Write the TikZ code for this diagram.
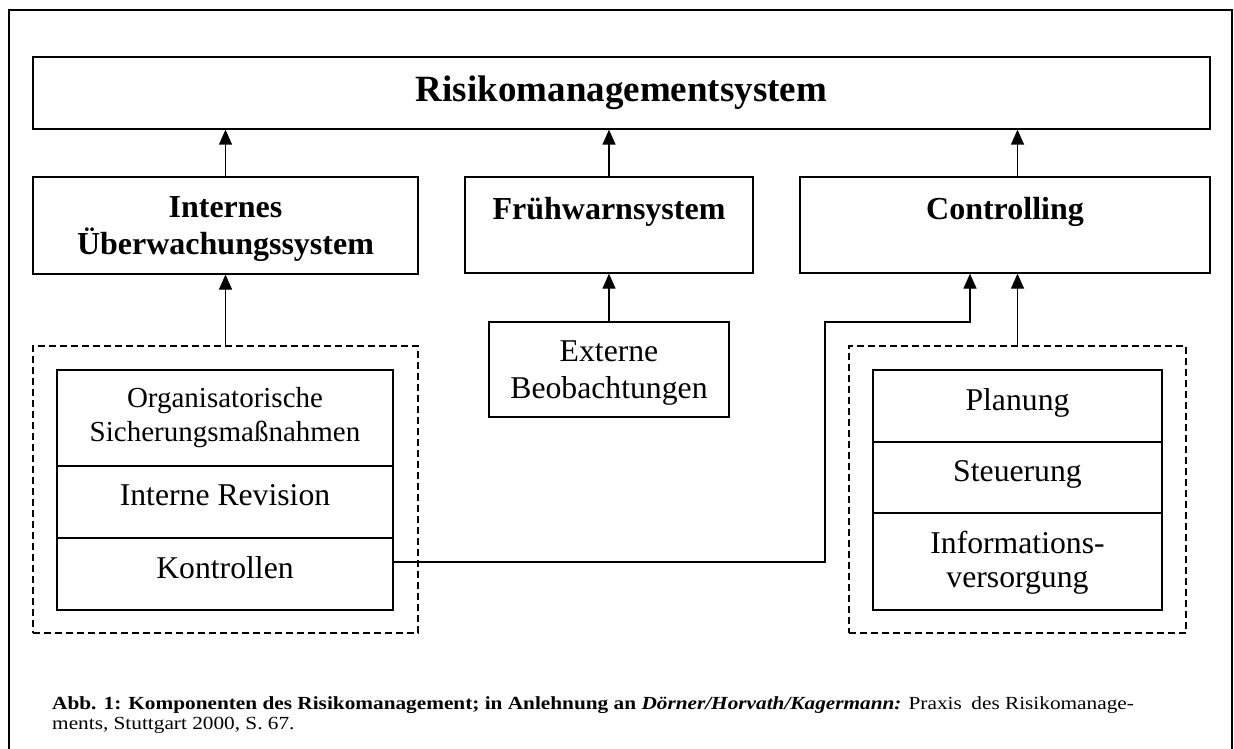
\documentclass[tikz,border=0pt]{standalone}
\usepackage{fontspec}
\usepackage{graphicx}
\setmainfont{Liberation Serif}
\usetikzlibrary{arrows.meta}
\newcommand{\rs}{\rule[-13pt]{0pt}{22pt}}
\begin{document}
\begin{tikzpicture}[x=1pt,y=-1pt,
  box/.style={draw,line width=1.3pt,inner sep=0pt,align=center},
  dbox/.style={draw,line width=1.2pt,dash pattern=on 7pt off 4pt,inner sep=0pt},
  arr/.style={line width=1.3pt,-{Triangle[length=15pt,width=13pt]}},
  hd/.style={font=\fontsize{32}{37}\selectfont\bfseries},
  tx/.style={font=\fontsize{31.7}{35}\selectfont},
  txs/.style={font=\fontsize{29}{34}\selectfont},
]
\useasboundingbox (0,0) rectangle (1234,749);
\draw[line width=1.3pt] (9,749) -- (9,10) -- (1232,10) -- (1232,749);

\node[box,font=\fontsize{37}{40}\selectfont\bfseries,minimum width=1177pt,minimum height=72pt] (top) at (621.5,93) {\rule[-5pt]{0pt}{28pt}Risikomanagementsystem};

\node[box,hd,minimum width=385pt,minimum height=97pt] (ius) at (225.5,225.5) {\rule{0pt}{33pt}Internes\\\strut Überwachungssystem};
\node[box,hd,minimum width=288pt,minimum height=96pt] (fws) at (609,225) {\rule{0pt}{38pt}Frühwarnsystem\\\strut};
\node[box,hd,minimum width=410pt,minimum height=96pt] (ctl) at (1005,225) {\rule{0pt}{38pt}Controlling\\\strut};

\node[dbox,minimum width=385pt,minimum height=287pt] (dL) at (225.5,489.5) {};
\node[dbox,minimum width=337pt,minimum height=287pt] (dR) at (1017.5,489.5) {};

\node[box,txs,minimum width=336pt,minimum height=96pt] (org) at (225,418) {\strut Organisatorische\\\strut Sicherungsmaßnahmen};
\node[box,tx,minimum width=336pt,minimum height=72pt] (rev) at (225,502) {\rs Interne Revision};
\node[box,tx,minimum width=336pt,minimum height=72pt] (kon) at (225,574) {\rs Kontrollen};

\node[box,font=\fontsize{31.7}{37}\selectfont,minimum width=240pt,minimum height=95pt] (ext) at (609,369.5) {\rule{0pt}{33pt}Externe\\\strut Beobachtungen};

\node[box,tx,minimum width=289pt,minimum height=72pt] (pla) at (1017.5,406) {\rs Planung};
\node[box,tx,minimum width=289pt,minimum height=71pt] (ste) at (1017.5,477.5) {\rs Steuerung};
\node[box,font=\fontsize{31.7}{34}\selectfont,minimum width=289pt,minimum height=97pt] (inf) at (1017.5,561.5) {\rule{0pt}{27.2pt}Informations-\\\strut versorgung};

\draw[arr] (ius.north) -- (ius.north |- top.south);
\draw[arr] (fws.north) -- (fws.north |- top.south);
\draw[arr] (dR.north |- ctl.north) -- (dR.north |- top.south);
\draw[arr] (dL.north) -- (ius.south);
\draw[arr] (ext.north) -- (fws.south);
\draw[arr] (dR.north) -- (dR.north |- ctl.south);
\coordinate (c1) at (825,322);
\coordinate (c2) at (970,322);
\draw[arr] ([yshift=12pt]kon.east) -| (c1) -- (c2) -- (c2 |- ctl.south);

\node[anchor=base west,align=left,inner sep=0pt,font=\fontsize{18.5}{19.5}\selectfont] (cap) at (52,729)
  {\scalebox{1.15}[1]{\textbf{Abb. 1: Komponenten des Risikomanagement; in Anlehnung an \textit{Dörner/Horvath/Kagermann:}} Praxis\hspace{0.45em}des Risikomanage-}\\
   \scalebox{1.15}[1]{ments, Stuttgart 2000, S. 67.}};
\end{tikzpicture}
\end{document}
